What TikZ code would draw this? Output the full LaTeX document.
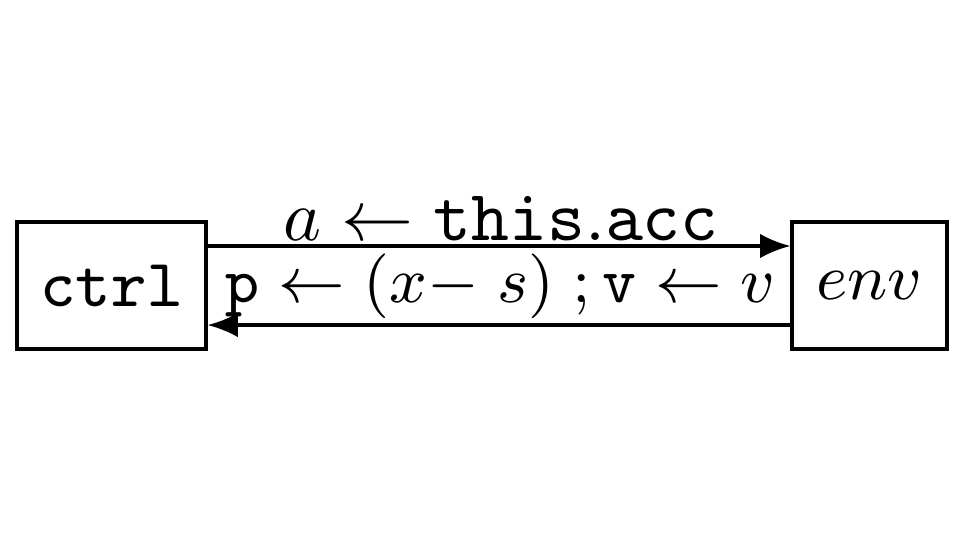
\documentclass[tikz,border=0pt]{standalone}
\usetikzlibrary{arrows.meta}
\begin{document}
\begin{tikzpicture}[x=0.138889pt,y=-0.138889pt,
  font=\fontsize{9.4}{11}\selectfont,
  box/.style={draw,line width=0.45pt,inner sep=0pt,minimum height=17.64pt},
  conn/.style={line width=0.45pt,-{Latex[length=4.2pt,width=3.4pt]}},
  lbl/.style={midway,anchor=base,inner sep=0pt}]
\useasboundingbox (0,0) rectangle (960,540);
\node[box,minimum width=26.25pt] (ctrl) at (111.5,285.5) {\texttt{ctrl}};
\node[box,minimum width=21.53pt] (env) at (869.5,285.5) {$env$};
\draw[conn] ([yshift=5.49pt]ctrl.east) -- ([yshift=5.49pt]env.west)
  node[lbl,yshift=0.7pt,xshift=0.3pt,font=\fontsize{9.8}{12}\selectfont] (top) {$a \leftarrow \mathtt{this.acc}$};
\draw[conn] ([yshift=-5.49pt]env.west) -- ([yshift=-5.49pt]ctrl.east)
  node[lbl,yshift=3.2pt,xshift=0.2pt] (mid) {$\mathtt{p} \leftarrow (x{-}\;s)\;{;}\,\mathtt{v} \leftarrow v$};
\end{tikzpicture}
\end{document}
